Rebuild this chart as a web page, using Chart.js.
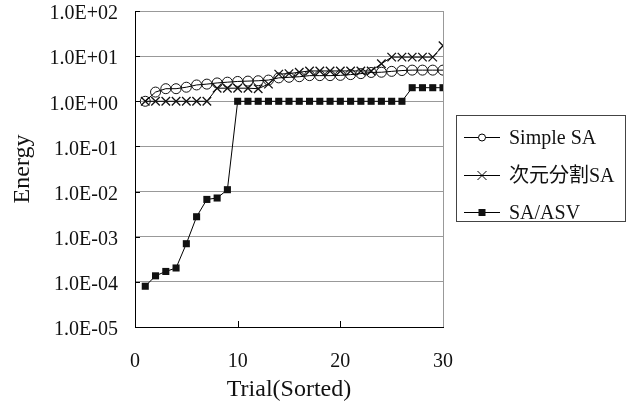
<!DOCTYPE html>
<html>
<head>
<meta charset="utf-8">
<script src="https://cdn.jsdelivr.net/npm/chart.js@4"></script>
<style>
  body { margin: 0; background: #fff; }
  canvas { display: block; }
</style>
</head>
<body>
<canvas id="energy-chart" width="633" height="411"></canvas>
<script>
const trials = [1, 2, 3, 4, 5, 6, 7, 8, 9, 10, 11, 12, 13, 14, 15, 16, 17, 18, 19, 20, 21, 22, 23, 24, 25, 26, 27, 28, 29, 30];
const simpleSA = [1.0, 1.6, 1.9, 1.9, 2.05, 2.3, 2.4, 2.55, 2.65, 2.75, 2.8, 2.85, 2.95, 3.3, 3.4, 3.5, 3.7, 3.7, 3.7, 3.75, 3.9, 4.1, 4.35, 4.4, 4.6, 4.8, 4.9, 4.9, 4.9, 4.9];
const splitSA = [1.0, 1.0, 1.0, 1.0, 1.0, 1.0, 1.0, 1.95, 1.95, 1.95, 1.95, 1.9, 2.4, 4.0, 4.1, 4.4, 4.7, 4.7, 4.7, 4.7, 4.7, 4.7, 4.7, 6.8, 9.5, 9.5, 9.5, 9.5, 9.5, 17];
const asvSA = [8.0e-5, 1.36e-4, 1.7e-4, 2.03e-4, 7.0e-4, 2.77e-3, 6.7e-3, 7.2e-3, 1.1e-2, 1.0, 1.0, 1.0, 1.0, 1.0, 1.0, 1.0, 1.0, 1.0, 1.0, 1.0, 1.0, 1.0, 1.0, 1.0, 1.0, 1.0, 2.0, 2.0, 2.0, 2.0];
const seriesNames = ['Simple SA', '次元分割SA', 'SA/ASV'];
const yTicks = [1e-5, 1e-4, 1e-3, 1e-2, 1e-1, 1e0, 1e1, 1e2];
const xTicks = [0, 10, 20, 30];

const serif = '"Liberation Serif", "Times New Roman", "Noto Sans CJK JP", serif';

function sciLabel(v) {
  const exp = Math.round(Math.log10(v));
  const sign = exp < 0 ? '-' : '+';
  return '1.0E' + sign + String(Math.abs(exp)).padStart(2, '0');
}

function points(values) {
  return values.map((v, i) => ({ x: trials[i], y: v }));
}

// inside tick marks on both axes
const innerTicks = {
  id: 'innerTicks',
  afterDatasetsDraw(chart) {
    const { ctx, chartArea, scales } = chart;
    ctx.save();
    ctx.strokeStyle = '#000';
    ctx.lineWidth = 1;
    ctx.beginPath();
    xTicks.slice(1, -1).forEach(t => {
      const px = Math.round(scales.x.getPixelForValue(t)) + 0.5;
      ctx.moveTo(px, chartArea.bottom);
      ctx.lineTo(px, chartArea.bottom - 6);
    });
    yTicks.forEach(t => {
      const py = Math.round(scales.y.getPixelForValue(t)) + 0.5;
      ctx.moveTo(chartArea.left, py);
      ctx.lineTo(chartArea.left + 5, py);
    });
    ctx.stroke();
    ctx.restore();
  }
};

// boxed legend with line + marker samples
const boxLegend = {
  id: 'boxLegend',
  afterDraw(chart) {
    const ctx = chart.ctx;
    const left = 456, top = 115, w = 169, h = 106;
    const rows = [137, 175, 212];
    ctx.save();
    ctx.strokeStyle = '#444';
    ctx.lineWidth = 1;
    ctx.strokeRect(left + 0.5, top + 0.5, w, h);
    ctx.font = '20px ' + serif;
    ctx.textBaseline = 'middle';
    chart.data.datasets.forEach((ds, i) => {
      const y = rows[i] + 0.5;
      ctx.strokeStyle = '#000';
      ctx.beginPath();
      ctx.moveTo(464, y);
      ctx.lineTo(500, y);
      ctx.stroke();
      const cx = 482;
      if (ds.pointStyle === 'circle') {
        ctx.beginPath();
        ctx.arc(cx, y, 3.5, 0, Math.PI * 2);
        ctx.fillStyle = '#fff';
        ctx.fill();
        ctx.stroke();
      } else if (ds.pointStyle === 'crossRot') {
        ctx.beginPath();
        ctx.moveTo(cx - 4.5, y - 4.5); ctx.lineTo(cx + 4.5, y + 4.5);
        ctx.moveTo(cx - 4.5, y + 4.5); ctx.lineTo(cx + 4.5, y - 4.5);
        ctx.stroke();
      } else {
        ctx.fillStyle = '#111';
        ctx.fillRect(cx - 3.5, y - 3.5, 7, 7);
      }
      ctx.fillStyle = '#111';
      ctx.fillText(ds.label, 509, y + 1);
    });
    ctx.restore();
  }
};

new Chart(document.getElementById('energy-chart'), {
  type: 'line',
  data: {
    datasets: [
      {
        label: seriesNames[0],
        data: points(simpleSA),
        borderColor: '#000',
        borderWidth: 1,
        pointStyle: 'circle',
        pointRadius: 5,
        pointBorderWidth: 1,
        pointBackgroundColor: 'rgba(255,255,255,0)',
        pointBorderColor: '#111'
      },
      {
        label: seriesNames[1],
        data: points(splitSA),
        borderColor: '#000',
        borderWidth: 1,
        pointStyle: 'crossRot',
        pointRadius: 6,
        pointBorderWidth: 1.3,
        pointBorderColor: '#111'
      },
      {
        label: seriesNames[2],
        data: points(asvSA),
        borderColor: '#000',
        borderWidth: 1,
        pointStyle: 'rect',
        pointRadius: 5,
        pointBorderWidth: 0,
        pointBackgroundColor: '#111',
        pointBorderColor: '#111'
      }
    ]
  },
  options: {
    responsive: false,
    animation: false,
    layout: { padding: { top: 11, right: 190, left: 0, bottom: 0 } },
    plugins: {
      legend: { display: false },
      tooltip: { enabled: false }
    },
    scales: {
      x: {
        type: 'linear',
        min: 0,
        max: 30,
        afterBuildTicks: s => { s.ticks = xTicks.map(v => ({ value: v })); },
        afterFit: s => { s.height = 84; },
        grid: {
          drawTicks: false,
          color: ctx => ctx.tick && ctx.tick.value === 30 ? '#999' : 'rgba(0,0,0,0)'
        },
        border: { color: '#000', width: 1 },
        ticks: {
          padding: 23,
          color: '#111',
          font: { family: serif, size: 20 }
        },
        title: {
          display: true,
          text: 'Trial(Sorted)',
          color: '#111',
          font: { family: serif, size: 24 },
          padding: { top: 0, bottom: 7 }
        }
      },
      y: {
        type: 'logarithmic',
        min: 1e-5,
        max: 1e2,
        afterBuildTicks: s => { s.ticks = yTicks.map(v => ({ value: v })); },
        afterFit: s => { s.width = 135; s.paddingTop = 0; s.paddingBottom = 0; },
        grid: { drawTicks: false, color: '#999', lineWidth: 1 },
        border: { color: '#000', width: 1 },
        ticks: {
          padding: 17,
          labelOffset: 3,
          color: '#111',
          font: { family: serif, size: 20 },
          callback: v => sciLabel(v)
        },
        title: {
          display: true,
          text: 'Energy',
          color: '#111',
          font: { family: serif, size: 24 },
          padding: { top: 8, bottom: 0 }
        }
      }
    }
  },
  plugins: [innerTicks, boxLegend]
});
</script>
</body>
</html>
